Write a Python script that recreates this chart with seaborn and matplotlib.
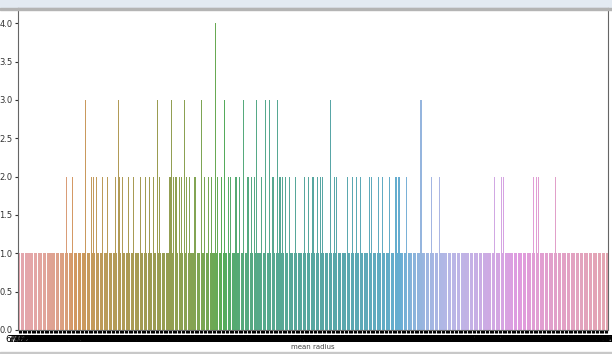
import numpy as np
import pandas as pd
import seaborn as sns
import matplotlib.pyplot as plt
from matplotlib.patches import Rectangle

# number of distinct "mean radius" values on the x axis
n_values = 456

# tick labels (unreadable in the reference, they just form a black strip)
radius_labels = [f"{v:.3f}" for v in np.linspace(6.981, 28.11, n_values)]

# positions (category index) of the bars that are taller than 1
count2_idx = [37, 42, 56, 58, 60, 65, 69, 75, 78, 80, 85, 89, 94, 98, 101, 104,
              109, 117, 120, 121, 122, 124, 126, 130, 132, 136, 137, 144, 147,
              149, 154, 157, 162, 164, 168, 171, 177, 178, 180, 182, 188, 196,
              197, 202, 204, 206, 209, 214, 221, 224, 227, 228, 231, 233, 235,
              244, 246, 254, 258, 261, 264, 271, 273, 278, 281, 287, 291, 292,
              294, 300, 319, 325, 368, 373, 375, 398, 400, 402, 415]
count3_idx = [52, 77, 107, 118, 128, 141, 159, 174, 184, 191, 194, 200, 241, 311]
count4_idx = [152]

counts = [1] * n_values
for i in count2_idx:
    counts[i] = 2
for i in count3_idx:
    counts[i] = 3
for i in count4_idx:
    counts[i] = 4

df = pd.DataFrame({"mean radius": radius_labels, "count": counts})

fig = plt.figure(figsize=(6.12, 3.54), dpi=100)
ax = fig.add_axes([0.0294, 0.0678, 0.964, 0.910])

sns.barplot(data=df, x="mean radius", y="count", hue="mean radius",
            palette=sns.husl_palette(n_values, l=.72), saturation=0.6,
            legend=False, ax=ax)

ax.set_ylim(0, 4.2)
ax.set_yticks(np.arange(0, 4.01, 0.5))
ax.tick_params(axis="y", labelsize=6, length=2, pad=2, colors="#333333")
ax.tick_params(axis="x", labelsize=6.5, length=2, pad=1.5)
ax.set_ylabel("count", fontsize=4, labelpad=1)
ax.set_xlabel("mean radius", fontsize=5, labelpad=0, color="#444444")
for s in ax.spines.values():
    s.set_color("#666666")
    s.set_linewidth(0.8)

# screenshot frame around the chart
fig.patches.append(Rectangle((0, 0.978), 1, 0.022, transform=fig.transFigure,
                             color="#e3eaf2", zorder=-1))
fig.patches.append(Rectangle((0, 0.972), 1, 0.006, transform=fig.transFigure,
                             color="#b4b4b4", zorder=5))
fig.patches.append(Rectangle((0, 0), 1, 0.007, transform=fig.transFigure,
                             color="#c8c8c8", zorder=5))

fig.savefig("out.png", dpi=100)
